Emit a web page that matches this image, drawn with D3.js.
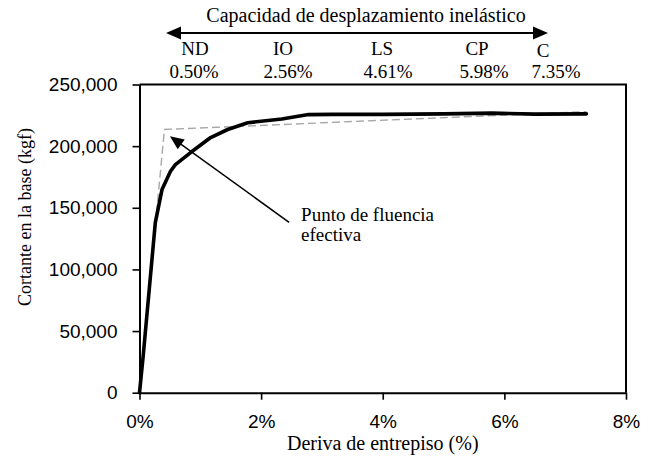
<!DOCTYPE html>
<html><head><meta charset="utf-8">
<script src="https://cdn.jsdelivr.net/npm/d3@7"></script>
<style>body{margin:0;background:#fff} svg{display:block}</style>
</head><body>
<svg id="chart" width="654" height="461"></svg>
<script>
// ---- data ----
const drift = [0, 0.06, 0.26, 0.37, 0.51, 0.59, 0.84, 1.17, 1.45, 1.78, 2.34, 2.78, 3.17, 4.0, 5.0, 5.8, 6.5, 7.35];
const shear = [0, 29500, 138000, 164800, 179600, 185000, 194800, 207000, 213500, 219000, 222000, 225600, 225800, 225800, 226200, 226800, 226000, 226200];
const bilinearDrift = [0, 0.41, 7.35];
const bilinearShear = [0, 213500, 228000];
const xTicks = [0, 2, 4, 6, 8];
const yTicks = [0, 50000, 100000, 150000, 200000, 250000];
const levelNames = ["ND", "IO", "LS", "CP", "C"];
const levelDrifts = ["0.50%", "2.56%", "4.61%", "5.98%", "7.35%"];
const topTitle = "Capacidad de desplazamiento inelástico";
const xTitle = "Deriva de entrepiso (%)";
const yTitle = "Cortante en la base (kgf)";
const annotationLines = ["Punto de fluencia", "efectiva"];
const annotationTip = [0.50, 208000];
const annotationTail = [2.46, 138200];

// ---- layout ----
const W = 654, H = 461;
const plot = {left: 139.5, right: 626, top: 84.5, bottom: 392.7};
const nameX = [195, 283, 382, 477, 543];
const nameY = [55, 55, 55, 55, 57];
const valueX = [194, 288, 388, 484, 556];
const serif = "'Liberation Serif','Times New Roman',serif";
const sans = "'Liberation Sans',Arial,sans-serif";

const svg = d3.select("#chart");
const x = d3.scaleLinear().domain([0, 8]).range([plot.left, plot.right]);
const y = d3.scaleLinear().domain([0, 250000]).range([plot.bottom, plot.top]);

// frame (top & right)
svg.append("path")
  .attr("d", `M${plot.left},${plot.top}H${plot.right}V${plot.bottom}`)
  .attr("fill", "none").attr("stroke", "#000").attr("stroke-width", 2);

// axes
const gx = svg.append("g").attr("transform", `translate(0,${plot.bottom})`)
  .call(d3.axisBottom(x).tickValues(xTicks).tickFormat(d => d + "%").tickSize(7).tickSizeOuter(0).tickPadding(15));
const gy = svg.append("g").attr("transform", `translate(${plot.left},0)`)
  .call(d3.axisLeft(y).tickValues(yTicks).tickFormat(d3.format(",")).tickSize(7).tickSizeOuter(0).tickPadding(15));
[gx, gy].forEach(g => {
  g.select(".domain").attr("stroke", "#000").attr("stroke-width", 2);
  g.selectAll(".tick line").attr("stroke", "#000").attr("stroke-width", 1.6);
  g.selectAll(".tick text").attr("fill", "#000").style("font-family", sans).style("font-size", "19px");
});

// bilinear (dashed)
const pts = drift.map((d, i) => [d, shear[i]]);
const bil = bilinearDrift.map((d, i) => [d, bilinearShear[i]]);
const line = d3.line().x(d => x(d[0])).y(d => y(d[1]));
svg.append("path").datum(bil).attr("d", line)
  .attr("fill", "none").attr("stroke", "#a6a6a6").attr("stroke-width", 1.4)
  .attr("stroke-dasharray", "8,4");
// pushover curve
svg.append("path").datum(pts).attr("d", line)
  .attr("fill", "none").attr("stroke", "#000").attr("stroke-width", 3.6)
  .attr("stroke-linejoin", "round").attr("stroke-linecap", "round");

// arrowhead helper
function arrowHead(tx, ty, fx, fy, len, half) {
  const a = Math.atan2(ty - fy, tx - fx);
  const bx = tx - len * Math.cos(a), by = ty - len * Math.sin(a);
  const px = -Math.sin(a) * half, py = Math.cos(a) * half;
  return `M${tx},${ty}L${bx + px},${by + py}L${bx - px},${by - py}Z`;
}

// annotation arrow
const tx = x(annotationTip[0]), ty = y(annotationTip[1]);
const fx = x(annotationTail[0]), fy = y(annotationTail[1]);
const a = Math.atan2(ty - fy, tx - fx);
svg.append("line").attr("x1", fx).attr("y1", fy)
  .attr("x2", tx - 10 * Math.cos(a)).attr("y2", ty - 10 * Math.sin(a))
  .attr("stroke", "#000").attr("stroke-width", 1.5);
svg.append("path").attr("d", arrowHead(tx, ty, fx, fy, 14, 6)).attr("fill", "#000");
svg.append("g").selectAll("text").data(annotationLines).join("text")
  .attr("x", fx + 12).attr("y", (d, i) => fy - 1 + i * 20)
  .style("font-family", serif).style("font-size", "19px").attr("fill", "#000")
  .text(d => d);

// top double arrow
const ax1 = 166, ax2 = 548, ay = 33;
svg.append("line").attr("x1", ax1 + 10).attr("x2", ax2 - 10).attr("y1", ay).attr("y2", ay)
  .attr("stroke", "#000").attr("stroke-width", 2);
svg.append("path").attr("d", arrowHead(ax1, ay, ax2, ay, 15, 6.5)).attr("fill", "#000");
svg.append("path").attr("d", arrowHead(ax2, ay, ax1, ay, 15, 6.5)).attr("fill", "#000");

svg.append("text").attr("x", (ax1 + ax2) / 2 + 9).attr("y", 22)
  .attr("text-anchor", "middle").style("font-family", serif).style("font-size", "20px")
  .text(topTitle);

svg.append("g").selectAll("text").data(levelNames).join("text")
  .attr("x", (d, i) => nameX[i]).attr("y", (d, i) => nameY[i])
  .attr("text-anchor", "middle").style("font-family", serif).style("font-size", "19px")
  .text(d => d);
svg.append("g").selectAll("text").data(levelDrifts).join("text")
  .attr("x", (d, i) => valueX[i]).attr("y", 78)
  .attr("text-anchor", "middle").style("font-family", serif).style("font-size", "19px")
  .text(d => d);

// axis titles
svg.append("text").attr("x", (plot.left + plot.right) / 2).attr("y", 450)
  .attr("text-anchor", "middle").style("font-family", serif).style("font-size", "20px")
  .text(xTitle);
svg.append("text").attr("transform", "translate(31,217) rotate(-90)")
  .attr("text-anchor", "middle").style("font-family", serif).style("font-size", "18px")
  .text(yTitle);
</script>
</body></html>
